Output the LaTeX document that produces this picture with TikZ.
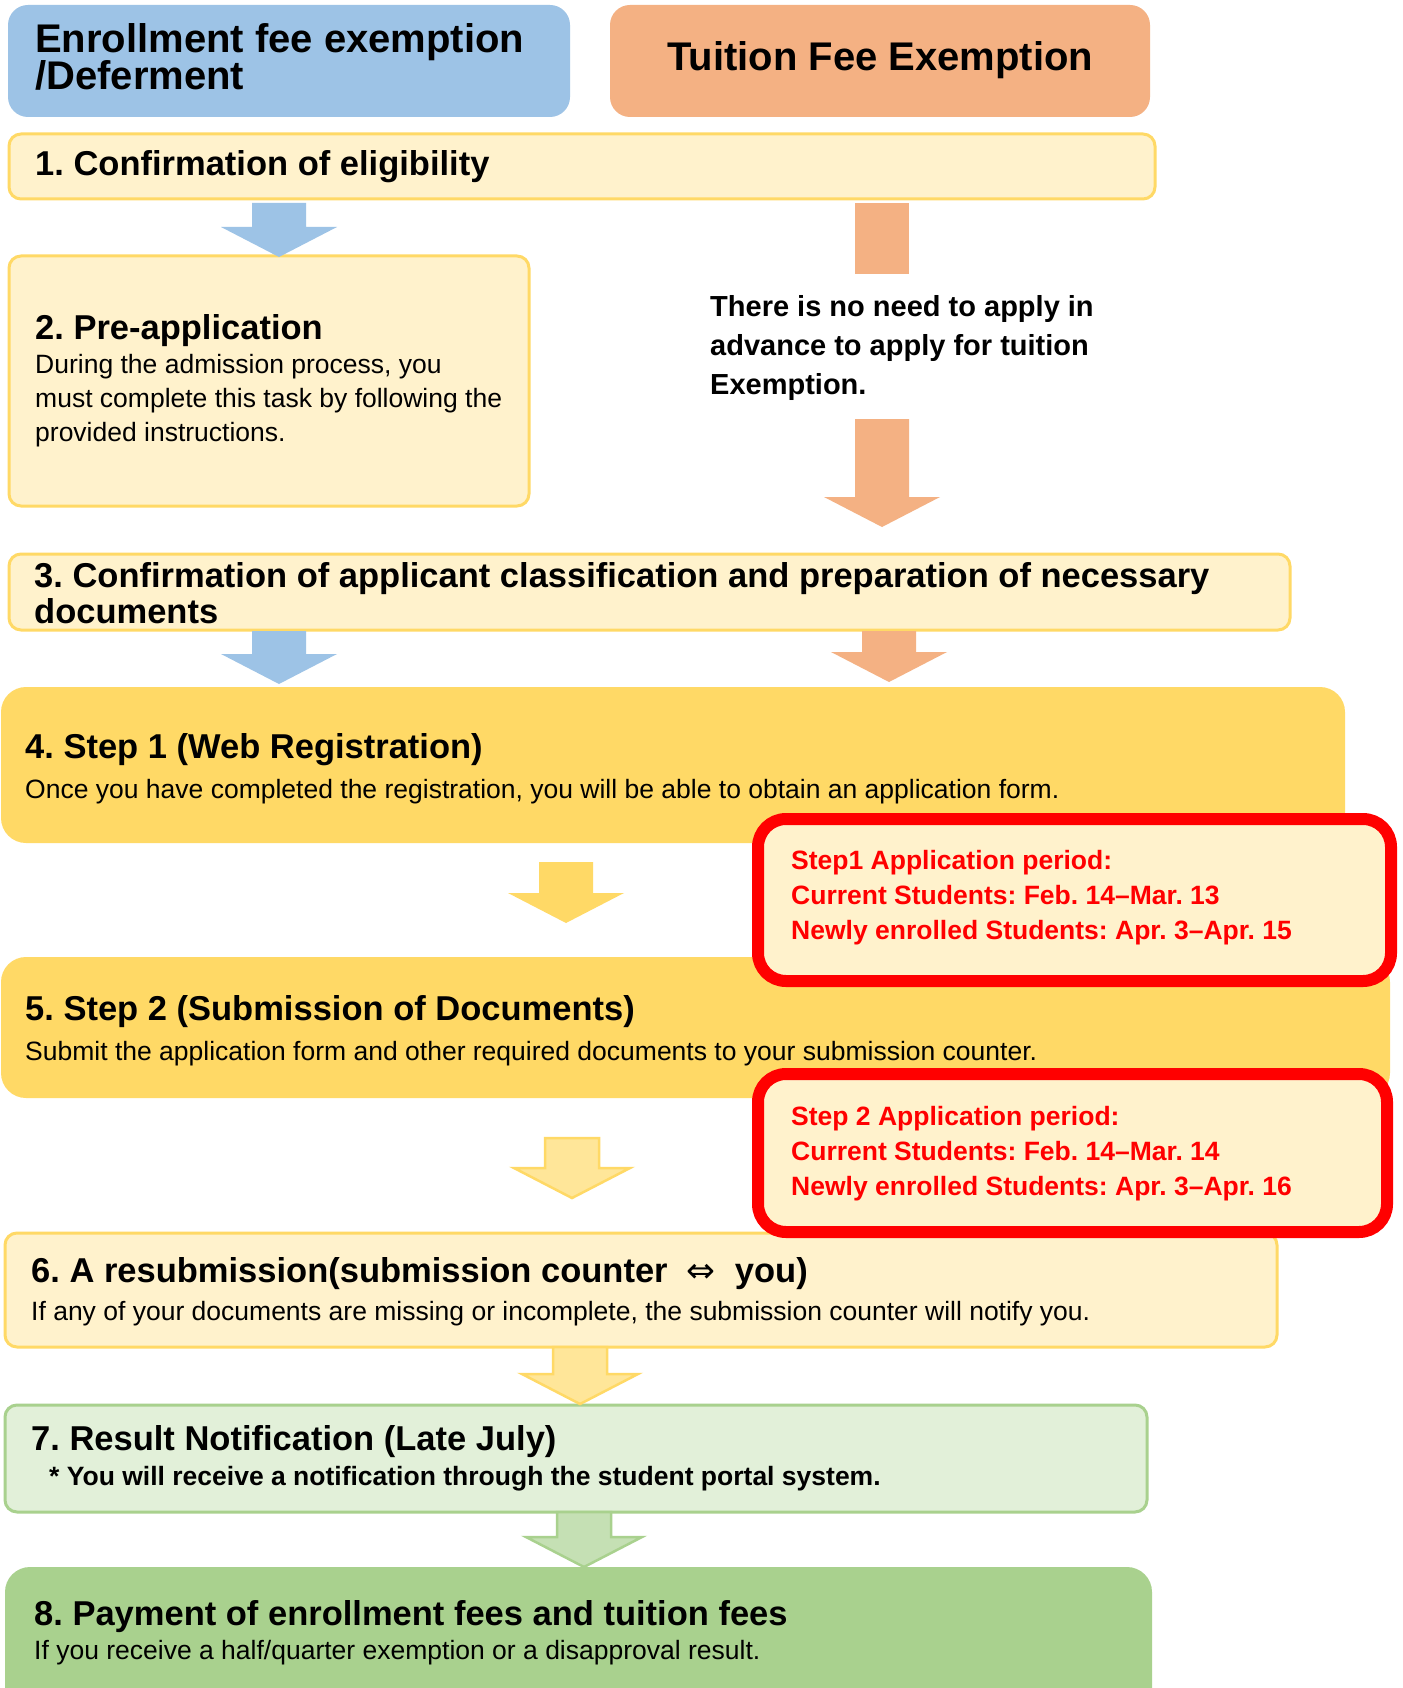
\documentclass[tikz,border=0pt]{standalone}
\usepackage{fontspec}
\setmainfont{Liberation Sans}
\newfontfamily\arrowfont{DejaVu Sans}
\usetikzlibrary{calc,fit}

\definecolor{hdblue}{HTML}{9DC3E6}
\definecolor{hdorange}{HTML}{F4B183}
\definecolor{cream}{HTML}{FFF2CC}
\definecolor{gold}{HTML}{FFD966}
\definecolor{paleyellow}{HTML}{FFE699}
\definecolor{palegreen}{HTML}{E2F0D9}
\definecolor{midgreen}{HTML}{C5E0B4}
\definecolor{leafgreen}{HTML}{A9D18E}
\definecolor{alertred}{HTML}{FF0000}

\tikzset{
  plainbox/.style={rectangle, inner sep=0pt},
  headbox/.style={plainbox, rounded corners=20pt},
  creambox/.style={plainbox, fill=cream, draw=gold, line width=3pt, rounded corners=12pt},
  goldbox/.style={plainbox, fill=gold, rounded corners=25pt},
  redbox/.style={plainbox, fill=cream, draw=alertred, line width=12pt, rounded corners=28pt},
  headtext/.style={anchor=base west, inner sep=0pt, font=\bfseries\fontsize{40}{44}\selectfont},
  titletext/.style={anchor=base west, inner sep=0pt, font=\bfseries\fontsize{34.5}{40}\selectfont},
  bodytext/.style={anchor=base west, inner sep=0pt, font=\fontsize{26.5}{32}\selectfont},
  boldbody/.style={bodytext, font=\bfseries\fontsize{26.5}{32}\selectfont},
  notetext/.style={anchor=base west, inner sep=0pt, font=\bfseries\fontsize{29}{34}\selectfont},
  periodtext/.style={boldbody, text=alertred},
  bluearrow/.style={fill=hdblue},
  orangearrow/.style={fill=hdorange},
  yellowarrow/.style={fill=gold},
  paleyellowarrow/.style={fill=paleyellow, draw=gold, line width=2.5pt},
  greenarrow/.style={fill=midgreen, draw=leafgreen, line width=2.5pt}
}

\newcommand{\fatarrow}[3]{
  \path[#1] ($(#2)+(-27,0)$) -- ($(#2)+(27,0)$) -- ($(#2 |- #3)+(27,-30)$)
    -- ($(#2 |- #3)+(58,-30)$) -- (#3) -- ($(#2 |- #3)+(-58,-30)$)
    -- ($(#2 |- #3)+(-27,-30)$) -- cycle;
}

\begin{document}
\frenchspacing
\begin{tikzpicture}[x=1pt,y=-1pt]
\clip (0,0) rectangle (1402,1688);
\fill[white] (0,0) rectangle (1402,1688);

% headers
\node[headbox, fill=hdblue, fit={(8,5) (570,117)}] (hd-enr) {};
\node[headbox, fill=hdorange, fit={(610,5) (1150,117)}] (hd-tui) {};
\node[headtext, text depth=0pt] (hd-enr1) at (35,53) {Enrollment fee exemption};
\node[headtext] (hd-enr2) at (35,90) {/Deferment};
\node[headtext] (hd-tui1) at (667,71) {Tuition Fee Exemption};

% steps
\node[creambox, fit={(9,134) (1155,199)}] (conf) {};
\node[creambox, fit={(9,256) (529,506)}] (pre) {};
\node[creambox, fit={(9,554) (1290,630)}] (cls) {};
\node[goldbox, fit={(1,687) (1345,843)}] (web) {};
\node[goldbox, fit={(1,957) (1390,1098)}] (sub) {};
\node[creambox, fit={(5,1233) (1277,1347)}] (resub) {};
\node[creambox, fill=palegreen, draw=leafgreen, fit={(5,1405) (1147,1512)}] (res) {};
\node[goldbox, fill=leafgreen, fit={(5,1567) (1152,1720)}] (pay) {};
\node[redbox, fit={(758,819) (1391,981)}] (per1) {};
\node[redbox, fit={(758,1074) (1387,1232)}] (per2) {};

\node[titletext] (conf-t) at (35,176) {1. Confirmation of eligibility};
\node[titletext] (pre-t) at (35,339) {2. Pre-application};
\foreach \txt [count=\i] in {{During the admission process, you},
    {must complete this task by following the},{provided instructions.}}
  \node[bodytext] (pre-l\i) at (35,339+34*\i) {\txt};
\foreach \txt [count=\i] in {{There is no need to apply in},
    {advance to apply for tuition},{Exemption.}}
  \node[notetext] (note-l\i) at (710,277+39*\i) {\txt};
\node[titletext] (cls-l1) at (34,587) {3. Confirmation of applicant classification and preparation of necessary};
\node[titletext] (cls-l2) at (34,623) {documents};
\node[titletext] (web-t) at (25,758) {4. Step 1 (Web Registration)};
\node[bodytext] (web-b) at (25,798) {Once you have completed the registration, you will be able to obtain an application form.};
\node[titletext] (sub-t) at (25,1020) {5. Step 2 (Submission of Documents)};
\node[bodytext] (sub-b) at (25,1060) {Submit the application form and other required documents to your submission counter.};
\foreach \txt [count=\i] in {{Step1 Application period:},
    {Current Students: Feb. 14--Mar. 13},{Newly enrolled Students: Apr. 3--Apr. 15}}
  \node[periodtext] (per1-l\i) at (791,834+35*\i) {\txt};
\foreach \txt [count=\i] in {{Step 2 Application period:},
    {Current Students: Feb. 14--Mar. 14},{Newly enrolled Students: Apr. 3--Apr. 16}}
  \node[periodtext] (per2-l\i) at (791,1090+35*\i) {\txt};
\node[titletext] (resub-t) at (31,1282) {6. A resubmission(submission counter \ {\arrowfont\mdseries ⇔} \ you)};
\node[bodytext] (resub-b) at (31,1320) {If any of your documents are missing or incomplete, the submission counter will notify you.};
\node[titletext] (res-t) at (31,1450) {7. Result Notification (Late July)};
\node[boldbody] (res-b) at (49,1485) {* You will receive a notification through the student portal system.};
\node[titletext] (pay-t) at (34,1625) {8. Payment of enrollment fees and tuition fees};
\node[bodytext] (pay-b) at (34,1659) {If you receive a half/quarter exemption or a disapproval result.};

% arrows
\foreach \nm/\x/\ys/\ye in {a1/279/203/257, a2/882/203/274, a3/882/419/527,
    a4/279/631/684, a5/889/631/682, a6/566/862/923, a7/572/1138/1198,
    a8/580/1347/1404, a9/584/1512/1567}
  {\coordinate (\nm s) at (\x,\ys); \coordinate (\nm e) at (\x,\ye);}
\fatarrow{bluearrow}{a1s}{a1e}
\fill[orangearrow] ($(a2s)+(-27,0)$) rectangle ($(a2e)+(27,0)$);
\fatarrow{orangearrow}{a3s}{a3e}
\fatarrow{bluearrow}{a4s}{a4e}
\fatarrow{orangearrow}{a5s}{a5e}
\fatarrow{yellowarrow}{a6s}{a6e}
\fatarrow{paleyellowarrow}{a7s}{a7e}
\fatarrow{paleyellowarrow}{a8s}{a8e}
\fatarrow{greenarrow}{a9s}{a9e}
\end{tikzpicture}
\end{document}
